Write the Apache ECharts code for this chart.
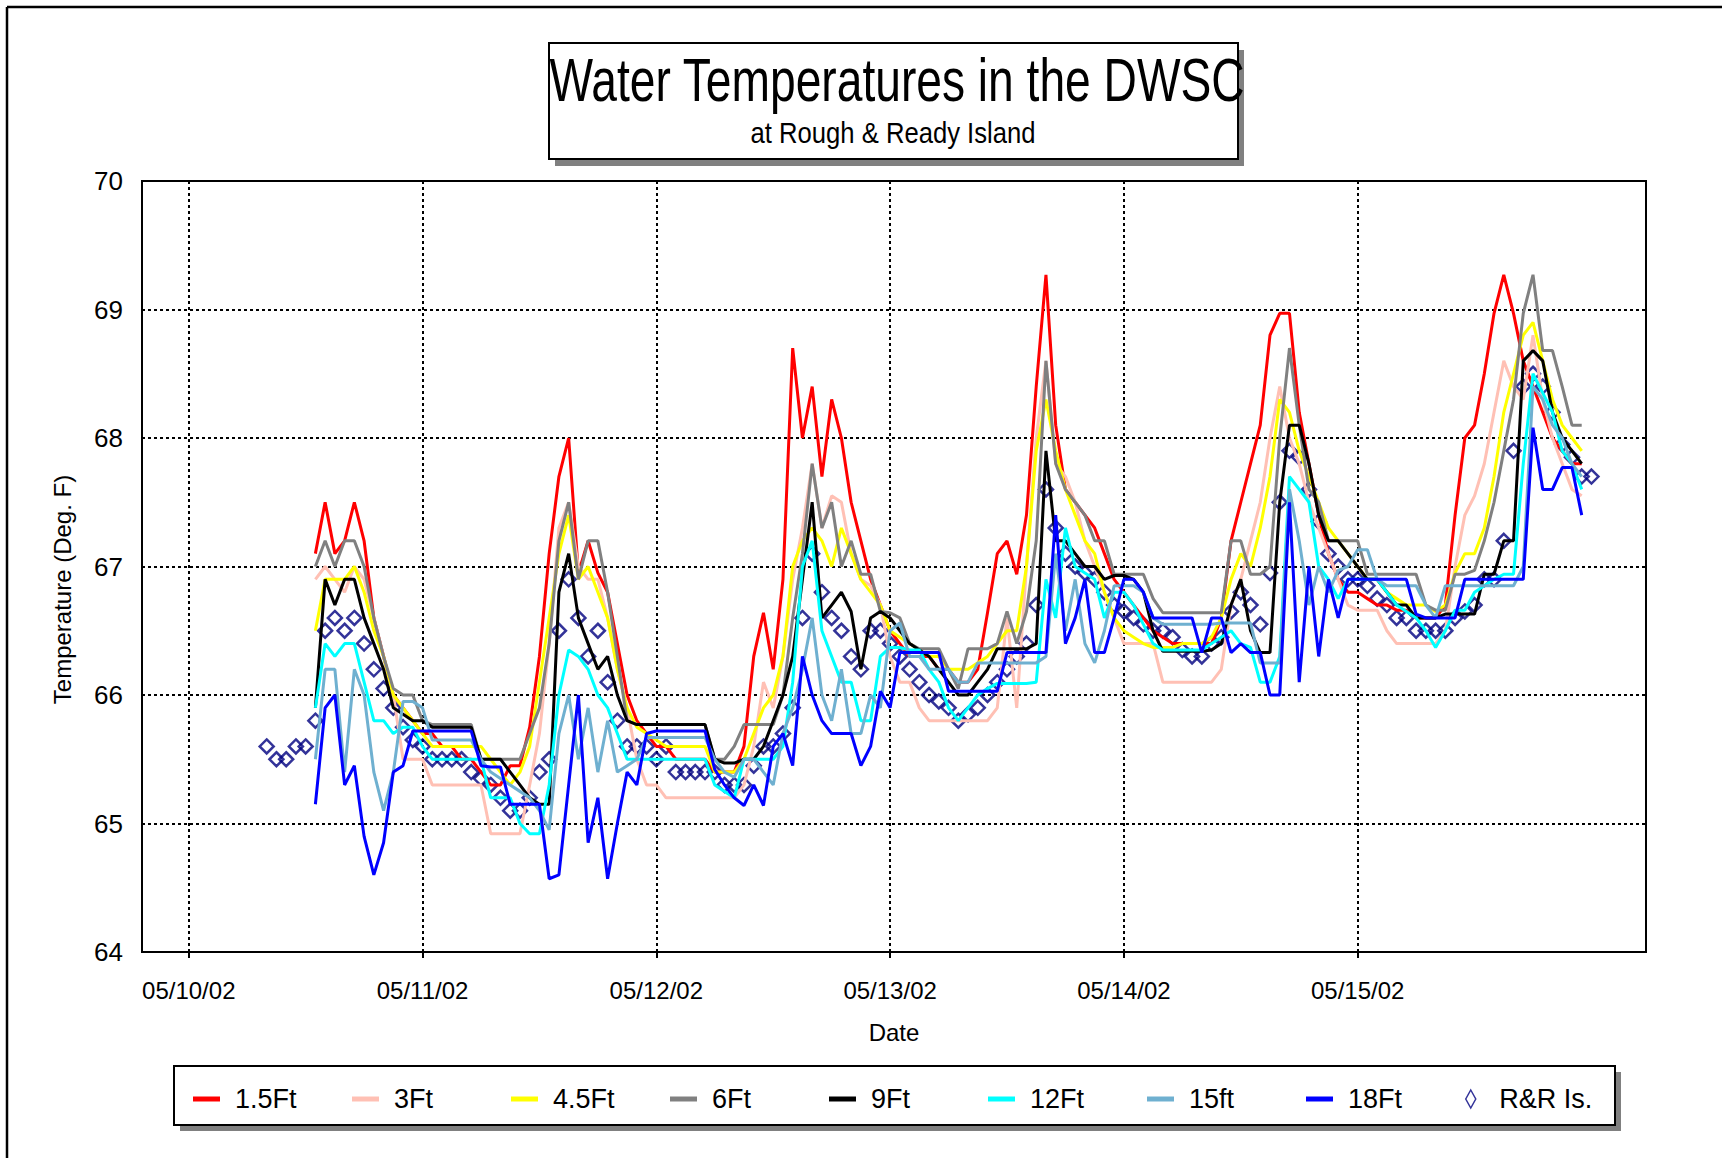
<!DOCTYPE html>
<html>
<head>
<meta charset="utf-8">
<title>Water Temperatures in the DWSC</title>
<script src="https://cdn.jsdelivr.net/npm/echarts@6.0.0/dist/echarts.min.js"></script>
<style>
    html, body { margin: 0; padding: 0; background: #fff; }
    #chart { width: 1722px; height: 1158px; }
</style>
</head>
<body>
<div id="chart"></div>
<script>
// 横轴单位: 小时, 从 05/10/02 00:00 起算
const TICK_HOURS = [0, 24, 48, 72, 96, 120];
const DATE_LABELS = ['05/10/02', '05/11/02', '05/12/02', '05/13/02', '05/14/02', '05/15/02'];

const SENSOR_START_HOUR = 13;   // 各深度探头, 每小时一个读数
const RR_START_HOUR = 8;        // R&R Is. 站

const NAMES = ['1.5Ft', '3Ft', '4.5Ft', '6Ft', '9Ft', '12Ft', '15ft', '18Ft'];
const COLORS = ['#ff0000', '#ffc0b4', '#ffff00', '#808080', '#000000', '#00ffff', '#6fb0d0', '#0000ff'];
const RR_NAME = 'R&R Is.';

const ft1_5 = [
    67.1, 67.5, 67.1, 67.2, 67.5, 67.2, 66.6, 66.3, 66.0, 65.9, 65.8, 65.7,
    65.7, 65.6, 65.6, 65.5, 65.5, 65.4, 65.3, 65.3, 65.45, 65.45, 65.75, 66.3,
    67.1, 67.7, 68.0, 66.95, 67.2, 66.95, 66.8, 66.4, 66.0, 65.8, 65.7, 65.6,
    65.6, 65.5, 65.5, 65.5, 65.5, 65.4, 65.4, 65.4, 65.6, 66.3, 66.64, 66.2,
    66.9, 68.7, 68.0, 68.4, 67.7, 68.3, 68.0, 67.5, 67.2, 66.9, 66.7, 66.5,
    66.4, 66.3, 66.3, 66.3, 66.2, 66.2, 66.1, 66.1, 66.2, 66.64, 67.1, 67.2,
    66.94, 67.4, 68.4, 69.27, 68.1, 67.6, 67.5, 67.4, 67.3, 67.1, 66.9, 66.8,
    66.7, 66.6, 66.5, 66.45, 66.4, 66.4, 66.4, 66.4, 66.4, 66.6, 67.2, 67.5,
    67.8, 68.1, 68.8, 68.97, 68.97, 68.2, 67.8, 67.4, 67.1, 66.9, 66.8, 66.8,
    66.75, 66.7, 66.7, 66.66, 66.66, 66.6, 66.6, 66.6, 66.7, 67.4, 68.0, 68.1,
    68.5, 68.97, 69.27, 68.97, 68.6, 68.4, 68.2, 68.0, 67.9, 67.8, 67.8
];
const ft3 = [
    66.9, 67.0, 66.9, 66.8, 67.0, 66.9, 66.6, 66.3, 66.0, 65.5, 65.5, 65.5,
    65.3, 65.3, 65.3, 65.3, 65.3, 65.3, 64.92, 64.92, 64.92, 64.92, 65.3, 65.7,
    66.4, 67.3, 67.5, 67.0, 66.9, 66.9, 66.6, 66.2, 65.9, 65.5, 65.3, 65.3,
    65.2, 65.2, 65.2, 65.2, 65.2, 65.2, 65.2, 65.2, 65.3, 65.6, 66.1, 65.9,
    66.3, 66.9, 67.3, 67.8, 67.3, 67.55, 67.5, 67.1, 66.9, 66.85, 66.7, 66.3,
    66.1, 66.1, 65.9, 65.8, 65.8, 65.8, 65.8, 65.8, 65.8, 65.8, 65.9, 66.6,
    65.9, 67.0, 68.0, 68.6, 67.8, 67.7, 67.5, 67.2, 67.0, 66.8, 66.6, 66.4,
    66.4, 66.4, 66.4, 66.1, 66.1, 66.1, 66.1, 66.1, 66.1, 66.2, 66.7, 66.9,
    67.2, 67.5, 68.0, 68.4, 68.0, 67.8, 67.5, 67.3, 67.1, 66.9, 66.7, 66.66,
    66.66, 66.66, 66.5, 66.4, 66.4, 66.4, 66.4, 66.4, 66.5, 67.0, 67.4, 67.55,
    67.8, 68.2, 68.6, 68.4, 68.3, 68.8, 68.3, 68.0, 67.8, 67.6, 67.55
];
const ft4_5 = [
    66.5, 66.9, 66.9, 66.9, 67.0, 66.8, 66.5, 66.3, 66.0, 65.9, 65.8, 65.7,
    65.6, 65.6, 65.6, 65.6, 65.6, 65.6, 65.5, 65.4, 65.3, 65.4, 65.6, 66.1,
    66.6, 67.1, 67.4, 66.9, 67.0, 66.8, 66.6, 66.2, 65.9, 65.75, 65.7, 65.65,
    65.6, 65.6, 65.6, 65.6, 65.6, 65.4, 65.4, 65.4, 65.5, 65.7, 65.9, 66.0,
    66.3, 67.0, 67.2, 67.3, 67.2, 67.0, 67.3, 67.1, 66.9, 66.8, 66.7, 66.5,
    66.45, 66.4, 66.35, 66.3, 66.3, 66.2, 66.2, 66.2, 66.25, 66.3, 66.4, 66.5,
    66.5, 67.0, 67.9, 68.3, 67.9, 67.6, 67.4, 67.2, 67.1, 66.8, 66.6, 66.5,
    66.45, 66.4, 66.37, 66.37, 66.37, 66.4, 66.4, 66.4, 66.45, 66.6, 66.9, 67.1,
    67.0, 67.3, 67.7, 68.3, 68.2, 67.9, 67.7, 67.5, 67.3, 67.2, 67.1, 67.0,
    66.9, 66.9, 66.8, 66.75, 66.7, 66.7, 66.7, 66.65, 66.7, 66.95, 67.1, 67.1,
    67.3, 67.7, 68.2, 68.5, 68.8, 68.9, 68.6, 68.3, 68.1, 68.0, 67.9
];
const ft6 = [
    67.0, 67.2, 67.0, 67.2, 67.2, 67.0, 66.6, 66.3, 66.05, 66.0, 66.0, 65.8,
    65.77, 65.77, 65.77, 65.77, 65.77, 65.5, 65.5, 65.5, 65.5, 65.5, 65.7, 65.9,
    66.4, 67.2, 67.5, 66.9, 67.2, 67.2, 66.8, 66.3, 65.8, 65.77, 65.77, 65.77,
    65.77, 65.77, 65.77, 65.77, 65.77, 65.5, 65.5, 65.6, 65.77, 65.77, 65.77, 65.77,
    66.0, 66.6, 67.1, 67.8, 67.3, 67.5, 67.0, 67.2, 66.94, 66.94, 66.65, 66.64,
    66.6, 66.4, 66.36, 66.36, 66.36, 66.2, 66.05, 66.36, 66.36, 66.36, 66.4, 66.65,
    66.4, 66.65, 67.2, 68.6, 67.8, 67.6, 67.5, 67.4, 67.2, 67.2, 66.94, 66.94,
    66.94, 66.94, 66.75, 66.64, 66.64, 66.64, 66.64, 66.64, 66.64, 66.64, 67.2, 67.2,
    66.94, 66.94, 67.0, 68.0, 68.7, 68.1, 67.6, 67.5, 67.2, 67.2, 67.2, 67.2,
    66.94, 66.94, 66.94, 66.94, 66.94, 66.94, 66.7, 66.66, 66.66, 66.94, 66.94, 66.97,
    67.2, 67.5, 67.9, 68.3, 68.97, 69.27, 68.68, 68.68, 68.4, 68.1, 68.1
];
const ft9 = [
    65.9, 66.9, 66.7, 66.9, 66.9, 66.6, 66.4, 66.2, 65.9, 65.85, 65.8, 65.8,
    65.75, 65.75, 65.75, 65.75, 65.75, 65.5, 65.5, 65.5, 65.4, 65.3, 65.2, 65.15,
    65.15, 66.8, 67.1, 66.6, 66.4, 66.2, 66.3, 66.0, 65.8, 65.77, 65.77, 65.77,
    65.77, 65.77, 65.77, 65.77, 65.77, 65.5, 65.47, 65.47, 65.5, 65.5, 65.6, 65.8,
    66.0, 66.3, 66.9, 67.5, 66.6, 66.7, 66.8, 66.65, 66.2, 66.6, 66.65, 66.6,
    66.5, 66.4, 66.35, 66.3, 66.2, 66.1, 66.0, 66.0, 66.1, 66.2, 66.36, 66.36,
    66.36, 66.36, 66.4, 67.9, 67.2, 67.2, 67.1, 67.0, 67.0, 66.9, 66.93, 66.93,
    66.9, 66.8, 66.5, 66.34, 66.34, 66.34, 66.34, 66.34, 66.35, 66.4, 66.7, 66.9,
    66.5, 66.33, 66.33, 67.5, 68.1, 68.1, 67.8, 67.4, 67.2, 67.2, 67.1, 67.0,
    66.9, 66.9, 66.8, 66.7, 66.7, 66.6, 66.6, 66.6, 66.63, 66.63, 66.63, 66.63,
    66.94, 66.94, 67.2, 67.2, 68.6, 68.68, 68.6, 68.2, 68.0, 67.9, 67.8
];
const ft12 = [
    65.9, 66.4, 66.3, 66.4, 66.4, 66.1, 65.8, 65.8, 65.7, 65.75, 65.75, 65.6,
    65.5, 65.5, 65.5, 65.5, 65.5, 65.5, 65.2, 65.2, 65.2, 65.0, 64.92, 64.92,
    65.3, 66.0, 66.35, 66.3, 66.2, 66.0, 65.9, 65.7, 65.5, 65.5, 65.5, 65.5,
    65.5, 65.5, 65.5, 65.5, 65.5, 65.3, 65.25, 65.2, 65.5, 65.5, 65.5, 65.5,
    65.6, 66.1, 67.0, 67.2, 66.5, 66.3, 66.1, 66.1, 65.8, 65.8, 66.3, 66.37,
    66.37, 66.35, 66.35, 66.2, 66.1, 65.9, 65.8, 65.9, 66.0, 66.05, 66.09, 66.09,
    66.09, 66.09, 66.1, 66.9, 66.6, 67.3, 67.0, 66.95, 66.9, 66.6, 66.8, 66.8,
    66.7, 66.55, 66.4, 66.35, 66.35, 66.35, 66.35, 66.35, 66.4, 66.45, 66.5, 66.4,
    66.37, 66.1, 66.1, 66.3, 67.7, 67.6, 67.5, 67.0, 66.9, 66.75, 66.9, 66.9,
    66.9, 66.9, 66.8, 66.7, 66.65, 66.6, 66.5, 66.37, 66.5, 66.66, 66.66, 66.8,
    66.85, 66.9, 66.94, 66.94, 67.8, 68.5, 68.35, 68.2, 67.9, 67.8, 67.6
];
const ft15 = [
    65.5, 66.2, 66.2, 65.4, 66.2, 66.0, 65.4, 65.1, 65.4, 65.95, 65.95, 65.9,
    65.65, 65.65, 65.65, 65.65, 65.65, 65.5, 65.4, 65.35, 65.3, 65.25, 65.2, 65.1,
    64.95, 65.7, 66.0, 65.5, 65.9, 65.4, 65.8, 65.4, 65.45, 65.5, 65.67, 65.67,
    65.67, 65.67, 65.67, 65.67, 65.67, 65.5, 65.4, 65.36, 65.5, 65.5, 65.4, 65.3,
    65.7, 65.9, 66.2, 66.6, 66.0, 65.8, 66.2, 65.7, 65.7, 66.0, 65.9, 66.5,
    66.56, 66.3, 66.3, 66.2, 66.2, 66.2, 66.1, 66.1, 66.25, 66.25, 66.25, 66.25,
    66.25, 66.25, 66.25, 66.3, 67.1, 66.5, 66.9, 66.4, 66.25, 66.5, 66.85, 66.85,
    66.85, 66.8, 66.6, 66.55, 66.55, 66.55, 66.55, 66.55, 66.55, 66.56, 66.56, 66.56,
    66.56, 66.25, 66.25, 66.25, 67.6, 67.2, 66.7, 67.0, 66.8, 66.97, 67.0, 67.13,
    67.13, 66.9, 66.85, 66.85, 66.85, 66.85, 66.7, 66.6, 66.85, 66.85, 66.85, 66.85,
    66.85, 66.85, 66.85, 66.85, 67.0, 68.4, 68.3, 68.1, 68.0, 67.8, 67.7
];
const ft18 = [
    65.15, 65.9, 66.0, 65.3, 65.45, 64.9, 64.6, 64.85, 65.4, 65.45, 65.72, 65.72,
    65.72, 65.72, 65.72, 65.72, 65.72, 65.45, 65.44, 65.44, 65.15, 65.15, 65.15, 65.15,
    64.57, 64.6, 65.3, 66.0, 64.85, 65.2, 64.57, 65.0, 65.4, 65.3, 65.7, 65.72,
    65.72, 65.72, 65.72, 65.72, 65.72, 65.42, 65.3, 65.2, 65.14, 65.3, 65.14, 65.6,
    65.7, 65.45, 66.3, 66.0, 65.8, 65.7, 65.7, 65.7, 65.45, 65.6, 66.03, 65.9,
    66.33, 66.33, 66.33, 66.33, 66.33, 66.03, 66.03, 66.03, 66.03, 66.03, 66.03, 66.33,
    66.33, 66.33, 66.33, 66.33, 67.4, 66.4, 66.6, 66.9, 66.33, 66.33, 66.6, 66.9,
    66.9, 66.8, 66.6, 66.6, 66.6, 66.6, 66.6, 66.33, 66.6, 66.6, 66.33, 66.4,
    66.33, 66.33, 66.0, 66.0, 67.5, 66.1, 67.0, 66.3, 66.9, 66.6, 66.9, 66.9,
    66.9, 66.9, 66.9, 66.9, 66.9, 66.63, 66.6, 66.6, 66.6, 66.6, 66.9, 66.9,
    66.9, 66.9, 66.9, 66.9, 66.9, 68.08, 67.6, 67.6, 67.77, 67.77, 67.4
];
const rrIsland = [
    65.6, 65.5, 65.5, 65.6, 65.6, 65.8, 66.5, 66.6, 66.5, 66.6, 66.4, 66.2,
    66.05, 65.9, 65.75, 65.65, 65.6, 65.5, 65.5, 65.5, 65.5, 65.4, 65.35, 65.3,
    65.2, 65.1, 65.1, 65.2, 65.4, 65.5, 66.5, 66.9, 66.6, 66.3, 66.5, 66.1,
    65.8, 65.6, 65.6, 65.6, 65.5, 65.6, 65.4, 65.4, 65.4, 65.4, 65.4, 65.3,
    65.3, 65.3, 65.45, 65.6, 65.6, 65.7, 65.9, 66.6, 67.1, 66.8, 66.6, 66.5,
    66.3, 66.2, 66.5, 66.5, 66.4, 66.3, 66.2, 66.1, 66.0, 65.95, 65.9, 65.8,
    65.85, 65.9, 66.0, 66.1, 66.2, 66.3, 66.4, 66.7, 67.6, 67.3, 67.1, 67.0,
    66.95, 66.9, 66.8, 66.7, 66.65, 66.6, 66.55, 66.5, 66.5, 66.45, 66.35, 66.3,
    66.3, 66.4, 66.45, 66.65, 66.8, 66.7, 66.55, 66.95, 67.5, 67.9, 67.85, 67.6,
    67.35, 67.1, 67.0, 66.9, 66.9, 66.85, 66.75, 66.7, 66.6, 66.6, 66.5, 66.5,
    66.5, 66.5, 66.6, 66.65, 66.7, 66.9, 66.9, 67.2, 67.9, 68.4, 68.5, 68.4,
    68.2, 67.95, 67.85, 67.7, 67.7
];

const FONT = '"Liberation Sans", Arial, sans-serif';

var depthData = [ft1_5, ft3, ft4_5, ft6, ft9, ft12, ft15, ft18];

var series = depthData.map((vals, i) => ({
    name: NAMES[i],
    type: 'line',
    data: vals.map((v, k) => [SENSOR_START_HOUR + k, v]),
    showSymbol: false,
    symbol: 'none',
    lineStyle: { color: COLORS[i], width: 3 },
    itemStyle: { color: COLORS[i] },
    emphasis: { disabled: true },
    animation: false,
}));

series.push({
    name: RR_NAME,
    type: 'scatter',
    data: rrIsland.map((v, k) => [RR_START_HOUR + k, v]),
    symbol: 'diamond',
    symbolSize: 14,
    itemStyle: { color: 'rgba(0,0,0,0)', borderColor: '#000080', borderWidth: 2.5 },
    emphasis: { disabled: true },
    animation: false,
});

// 图例
var legendData = NAMES.map((n, i) => ({
    name: n,
    icon: 'path://M0,0H27V5H0Z',
    itemStyle: { color: COLORS[i], borderWidth: 0 },
}));
legendData.push({
    name: RR_NAME,
    icon: 'path://M5,0L10,9L5,18L0,9Z',
    itemStyle: { color: 'rgba(0,0,0,0)', borderColor: '#000080', borderWidth: 1.5 },
});

var myChart = echarts.init(document.getElementById('chart'), null, { renderer: 'svg' });

myChart.setOption({
    backgroundColor: '#fff',
    animation: false,
    grid: {
        left: 142, right: 76, top: 181, bottom: 206,
        show: true, borderColor: '#000', borderWidth: 2, backgroundColor: 'transparent',
    },
    xAxis: {
        type: 'value',
        min: -4.8,
        max: 149.6,
        name: 'Date',
        nameLocation: 'middle',
        nameGap: 68,
        nameTextStyle: { fontFamily: FONT, fontSize: 24, color: '#000' },
        axisLine: { show: true, onZero: false, lineStyle: { color: '#000', width: 2 } },
        axisTick: { show: true, length: 6, customValues: TICK_HOURS, lineStyle: { color: '#000', width: 2 } },
        axisLabel: {
            customValues: TICK_HOURS,
            margin: 26,
            fontFamily: FONT, fontSize: 24, color: '#000',
            formatter: function (value) {
                var idx = TICK_HOURS.indexOf(value);
                return idx >= 0 ? DATE_LABELS[idx] : '';
            },
        },
        splitLine: { show: true, lineStyle: { color: '#000', width: 2, type: [3, 3] } },
    },
    yAxis: {
        type: 'value',
        min: 64,
        max: 70,
        interval: 1,
        name: 'Temperature (Deg. F)',
        nameLocation: 'middle',
        nameGap: 68,
        nameTextStyle: { fontFamily: FONT, fontSize: 24, color: '#000', padding: [0, 46, 0, 0] },
        axisLine: { show: true, onZero: false, lineStyle: { color: '#000', width: 2 } },
        axisTick: { show: false },
        axisLabel: { margin: 19, fontFamily: FONT, fontSize: 26, color: '#000' },
        splitLine: { show: true, lineStyle: { color: '#000', width: 2, type: [3, 3] } },
    },
    legend: {
        data: legendData,
        left: 193,
        top: 1082,
        padding: 0,
        itemGap: 27,
        itemWidth: 27,
        itemHeight: 18,
        symbolKeepAspect: true,
        selectedMode: false,
        textStyle: {
            fontFamily: FONT, fontSize: 27, color: '#000',
            width: 90, overflow: 'none', lineHeight: 34, padding: [0, 0, 0, 10],
        },
    },
    graphic: [
        // 外框
        { type: 'line', shape: { x1: 7, y1: 7, x2: 1722, y2: 7 }, style: { stroke: '#000', lineWidth: 2.5 }, z: 0 },
        { type: 'line', shape: { x1: 7, y1: 7, x2: 7, y2: 1158 }, style: { stroke: '#000', lineWidth: 2.5 }, z: 0 },
        // 标题框
        { type: 'rect', shape: { x: 555, y: 50, width: 689, height: 116 }, style: { fill: '#808080' }, z: 0 },
        { type: 'rect', shape: { x: 549, y: 43, width: 689, height: 116 }, style: { fill: '#fff', stroke: '#000', lineWidth: 2 }, z: 1 },
        {
            type: 'text', x: 897, y: 80, scaleX: 0.757, z: 2,
            style: { text: 'Water Temperatures in the DWSC', fontFamily: FONT, fontSize: 61, fill: '#000', align: 'center', verticalAlign: 'middle' },
        },
        {
            type: 'text', x: 893, y: 133, scaleX: 0.855, z: 2,
            style: { text: 'at Rough & Ready Island', fontFamily: FONT, fontSize: 30, fill: '#000', align: 'center', verticalAlign: 'middle' },
        },
        // 图例框
        { type: 'rect', shape: { x: 180, y: 1072, width: 1441, height: 59 }, style: { fill: '#808080' }, z: 0 },
        { type: 'rect', shape: { x: 174, y: 1066, width: 1441, height: 59 }, style: { fill: '#fff', stroke: '#000', lineWidth: 2 }, z: 1 },
    ],
    series: series,
});
</script>
</body>
</html>
